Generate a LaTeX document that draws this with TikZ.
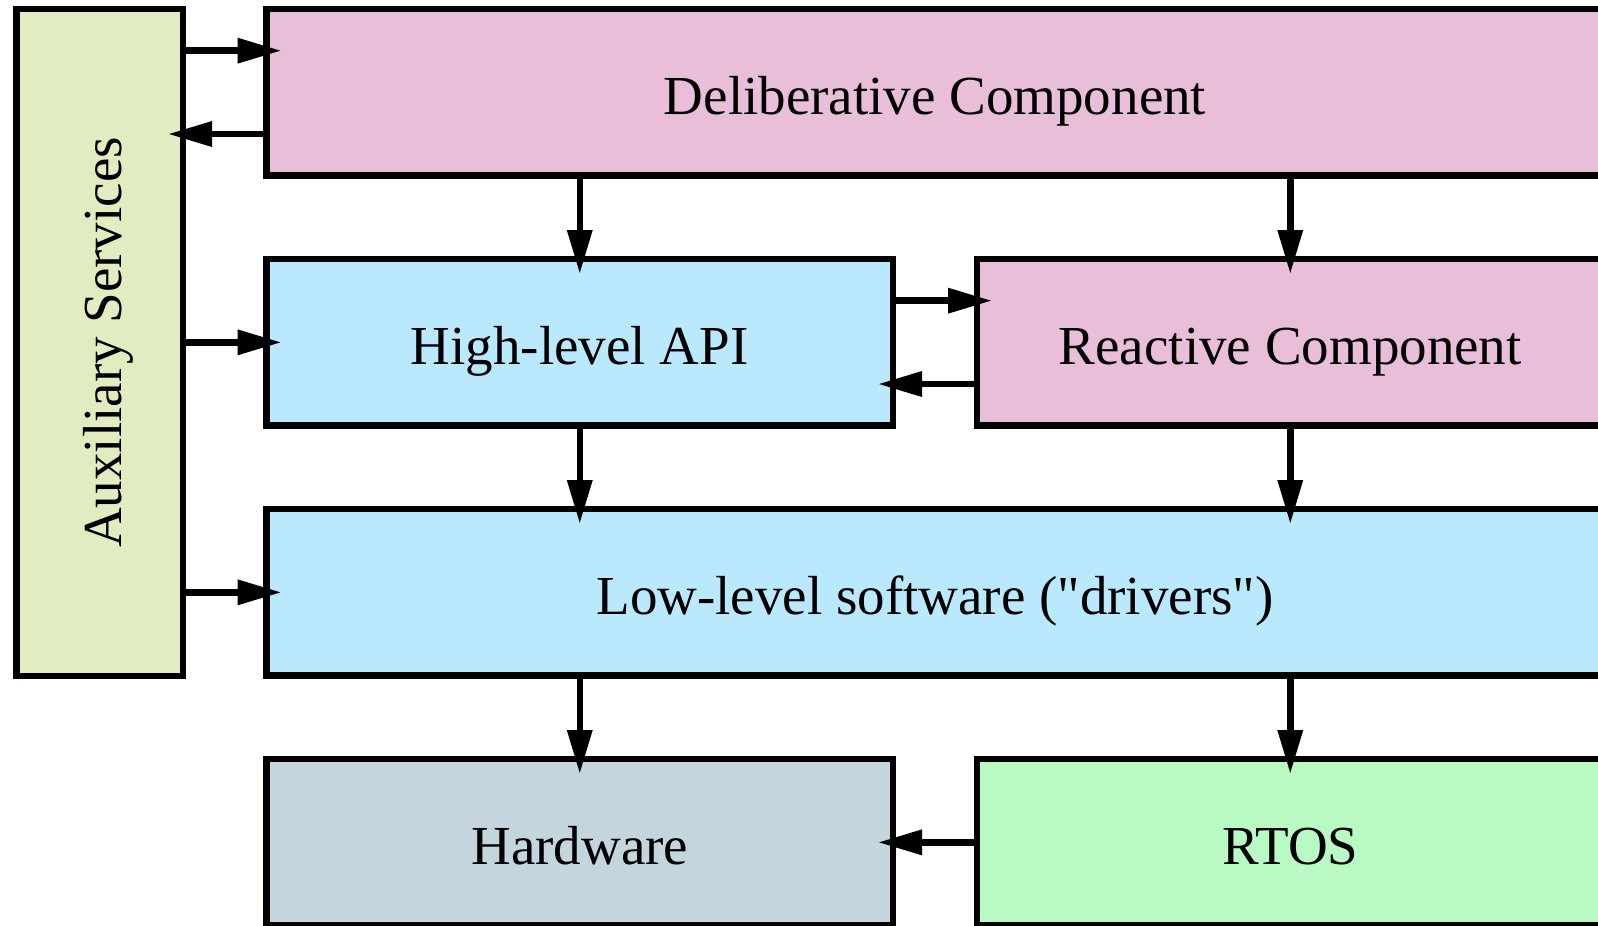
\documentclass[tikz,border=0pt]{standalone}
\usepackage{fontspec}
\setmainfont{Liberation Serif}[Ligatures=TeXOff]
\usepackage{tikz}
\usetikzlibrary{arrows.meta,calc,positioning}
\definecolor{delibpink}{HTML}{E8BED8}
\definecolor{apiblue}{HTML}{BAE9FE}
\definecolor{auxgreen}{HTML}{E1ECC1}
\definecolor{hwgrey}{HTML}{C4D5DD}
\definecolor{rtosgreen}{HTML}{B9FAC4}

\begin{document}
\begin{tikzpicture}[x=0.5pt,y=-0.5pt,
  boxtext/.style={font=\fontsize{27.5}{33}\selectfont,text height=23pt,text depth=1pt},
  box/.style={draw,line width=3.25pt,inner sep=0pt,outer sep=0pt,
    minimum width=313.25pt,minimum height=83.35pt,boxtext},
  widebox/.style={box,minimum width=668.5pt},
  arr/.style={line width=3.25pt,-{Triangle[length=22pt,width=12pt]},shorten >=-7.5pt}]
  \useasboundingbox (0,0) rectangle (1598,925);
  % Side column
  \node[box,fill=auxgreen,minimum width=83.25pt,minimum height=333.5pt] (aux) at (99.75,342.5) {};
  \node[rotate=90,inner sep=0pt,boxtext] (auxlabel) at (aux.center) {Auxiliary Services};
  % Layers
  \node[widebox,fill=delibpink] (delib) at (935,92.35) {Deliberative Component};
  \node[box,fill=apiblue] (api) at (579.75,342.35) {High-level API};
  \node[box,fill=delibpink] (react) at (1290.25,342.35) {Reactive Component};
  \node[widebox,fill=apiblue] (low) at (935,592.35) {Low-level software ("drivers")};
  \node[box,fill=hwgrey] (hw) at (579.75,842.35) {Hardware};
  \node[box,fill=rtosgreen] (rtos) at (1290.25,842.35) {RTOS};
  % Quarter points for the paired arrows
  \coordinate (dq1) at ($(delib.north west)!0.25!(delib.south west)$);
  \coordinate (dq3) at ($(delib.north west)!0.75!(delib.south west)$);
  \coordinate (aq1) at ($(api.north east)!0.25!(api.south east)$);
  \coordinate (aq3) at ($(api.north east)!0.75!(api.south east)$);
  % Side arrows
  \draw[arr] (aux.east |- dq1) -- (dq1);
  \draw[arr] (dq3) -- (aux.east |- dq3);
  \draw[arr] (aux.east |- api.west) -- (api.west);
  \draw[arr] (aux.east |- low.west) -- (low.west);
  \draw[arr] (aq1) -- (react.west |- aq1);
  \draw[arr] (react.west |- aq3) -- (aq3);
  % Downward arrows
  \draw[arr] (delib.south -| api.north) -- (api.north);
  \draw[arr] (delib.south -| react.north) -- (react.north);
  \draw[arr] (api.south) -- (low.north -| api.south);
  \draw[arr] (react.south) -- (low.north -| react.south);
  \draw[arr] (low.south -| hw.north) -- (hw.north);
  \draw[arr] (low.south -| rtos.north) -- (rtos.north);
  \draw[arr] (rtos.west) -- (hw.east);
\end{tikzpicture}
\end{document}
